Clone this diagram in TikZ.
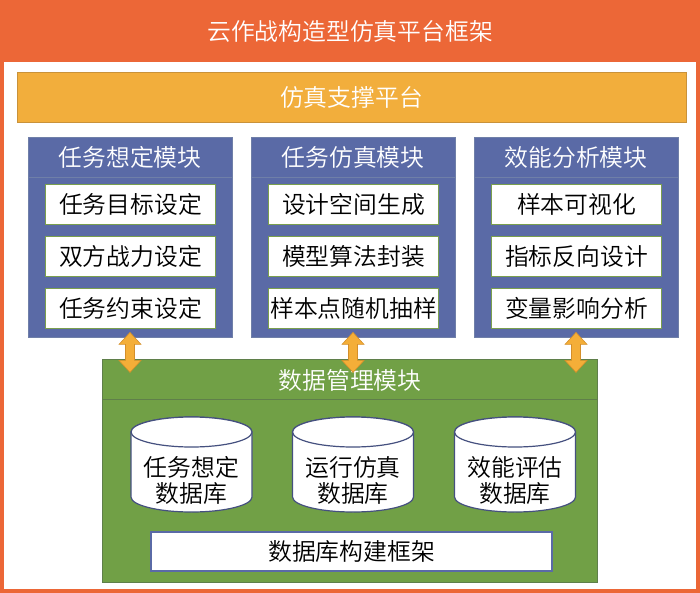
\documentclass[tikz,border=0pt]{standalone}
\usepackage{fontspec}
\setmainfont{Noto Sans CJK SC}[UprightFont=* DemiLight]
\usetikzlibrary{calc}
\definecolor{frameC}{HTML}{EC6737}
\definecolor{platC}{HTML}{F2AE3C}
\definecolor{platB}{HTML}{C9923A}
\definecolor{modC}{HTML}{5A6AA6}
\definecolor{modB}{HTML}{6F7FA8}
\definecolor{itemB}{HTML}{7A9F4E}
\definecolor{dataC}{HTML}{71A046}
\definecolor{dataB}{HTML}{5F7F4A}
\definecolor{cylB}{HTML}{45507F}
\definecolor{arrC}{HTML}{F4AE38}
\definecolor{arrB}{HTML}{D48F2A}
\tikzset{
  txt/.style={font=\fontsize{23.8}{26}\selectfont, inner sep=0pt},
  wtxt/.style={txt, text=white},
  modbox/.style={draw=modB, fill=modC, line width=0.8pt, minimum width=204pt, minimum height=200pt, inner sep=0pt},
  itembox/.style={draw=itemB, fill=white, line width=0.8pt, minimum width=170pt, minimum height=40pt, inner sep=0pt, font=\fontsize{23.8}{26}\selectfont},
  cyl/.style={draw=cylB, fill=white, line width=1.2pt},
  blockarrow/.style={draw=arrB, fill=arrC, line width=0.6pt, line join=miter},
}
\begin{document}
\begin{tikzpicture}[x=1pt,y=1pt]
\useasboundingbox (0,0) rectangle (700,-593);
% frame
\fill[frameC] (0,0) rectangle (700,-593);
\fill[white] (4,-62) rectangle (696,-589);
\node[wtxt] (title) at (350,-31) {云作战构造型仿真平台框架};
% platform
\node[draw=platB, fill=platC, line width=0.8pt, minimum width=669pt, minimum height=50pt, inner sep=0pt, wtxt] (plat) at (351.5,-97) {仿真支撑平台};
% modules
\foreach \n/\cx/\t/\a/\b/\c in {
  m1/130/任务想定模块/任务目标设定/双方战力设定/任务约束设定,
  m2/353/任务仿真模块/设计空间生成/模型算法封装/样本点随机抽样,
  m3/576/效能分析模块/样本可视化/指标反向设计/变量影响分析}{
  \node[modbox] (\n) at (\cx,-237) {};
  \draw[modB, line width=0.8pt] (\cx-102,-177) -- (\cx+102,-177);
  \node[wtxt] (\n h) at (\cx,-157) {\t};
  \node[itembox] (\n a) at (\cx+0.5,-204) {\a};
  \node[itembox] (\n b) at (\cx+0.5,-256.5) {\b};
  \node[itembox] (\n c) at (\cx+0.5,-308.5) {\c};
}
% data module
\node[draw=dataB, fill=dataC, line width=0.8pt, minimum width=495pt, minimum height=223pt, inner sep=0pt] (data) at (349.5,-470.5) {};
\draw[dataB, line width=0.8pt] (102,-399) -- (597,-399);
\node[wtxt] (datah) at (350,-380) {数据管理模块};
% cylinders
\foreach \n/\cx/\t in {d1/191.5/任务想定, d2/353/运行仿真, d3/515/效能评估}{
  \draw[cyl] (\cx-60.5,-432) -- (\cx-60.5,-497)
     arc[start angle=180, end angle=360, x radius=60.5, y radius=15]
     -- (\cx+60.5,-432)
     arc[start angle=0, end angle=180, x radius=60.5, y radius=15] -- cycle;
  \draw[cyl] (\cx,-432) ellipse[x radius=60.5, y radius=15];
  \node[txt, align=center] (\n) at (\cx,-480) {\t\\数据库};
}
\node[draw=modC, fill=white, line width=1.2pt, minimum width=401pt, minimum height=39pt, inner sep=0pt, txt] (build) at (351.5,-551.5) {数据库构建框架};
% arrows
\foreach \m in {m1,m2,m3}{
  \draw[blockarrow] ($(\m.south)+(0,5)$) -- ++(11,-12) -- ++(-6.5,0) -- ++(0,-16) -- ++(6.5,0)
     -- ++(-11,-12) -- ++(-11,12) -- ++(6.5,0) -- ++(0,16) -- ++(-6.5,0) -- cycle;
}
\end{tikzpicture}
\end{document}
